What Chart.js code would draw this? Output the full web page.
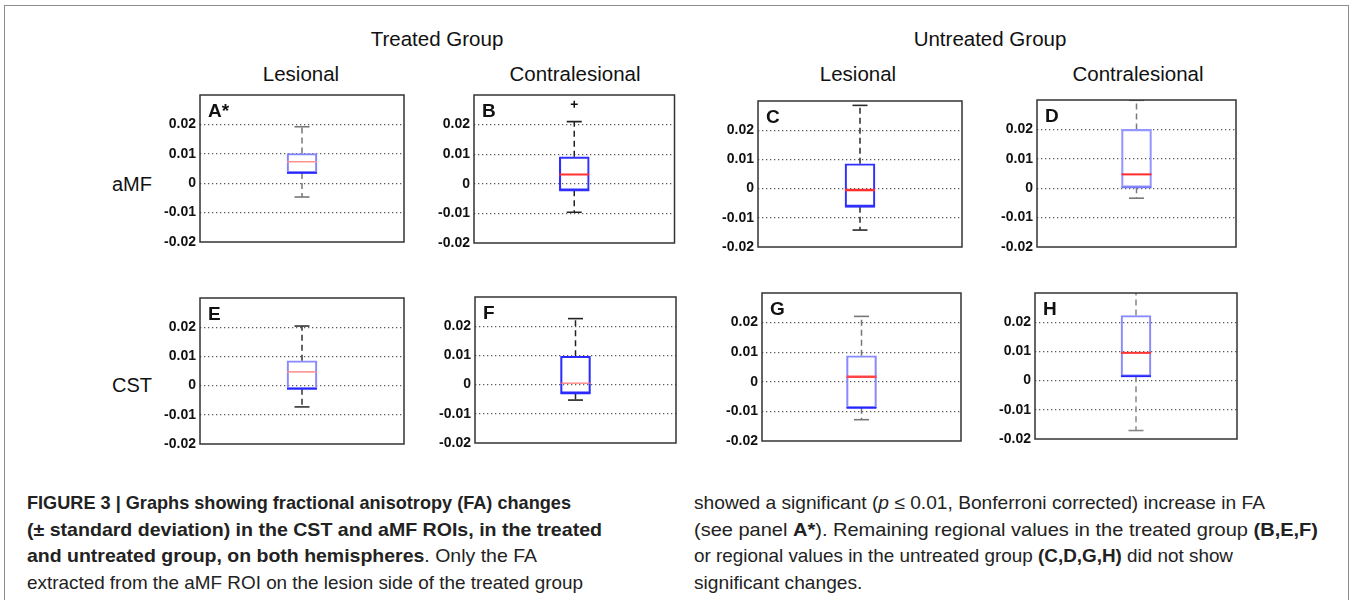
<!DOCTYPE html>
<html>
<head>
<meta charset="utf-8">
<script src="https://cdn.jsdelivr.net/npm/chart.js@4/dist/chart.umd.min.js"></script>
<style>
  html, body { margin:0; padding:0; background:#fff; width:1352px; height:600px; overflow:hidden; }
  body { position:relative; font-family:"Liberation Sans", Arial, sans-serif; color:#111; }
  .abs { position:absolute; white-space:nowrap; }
  .hdr { font-size:20.5px; line-height:24px; transform:translate(-50%,-50%); }
  .row { font-size:20px; line-height:24px; transform:translateY(-50%); }
  .letter { font-weight:bold; font-size:19px; line-height:19px; }
  .cap { font-family:"Liberation Sans Narrow","Liberation Sans",sans-serif; font-size:18.5px; line-height:22px; transform-origin:0 50%; color:#222; }
  .frame { position:absolute; left:4px; top:5px; width:1343px; height:640px; border:1.5px solid #8c8c8c; }
  .pw { position:absolute; }
</style>
</head>
<body>
<div class="frame"></div>
<div id="root"></div>
<script>
// ---------- DATA ----------
const panelLabels = ['A*','B','C','D','E','F','G','H'];
const groupTitles = ['Treated Group','Untreated Group'];
const sideTitles = ['Lesional','Contralesional','Lesional','Contralesional'];
const rowTitles = ['aMF','CST'];
const yTickValues = [-0.02, -0.01, 0, 0.01, 0.02];
const yTickLabels = ['-0.02', '-0.01', '0', '0.01', '0.02'];
const yMin = -0.02;
const yMax = 0.03;
const whiskerLow  = [-0.0047, -0.0096, -0.0142, -0.0034, -0.0073, -0.0053, -0.0128, -0.0171];
const q1          = [ 0.0035, -0.0022, -0.0062,  0.0003, -0.0011, -0.0030, -0.0088,  0.0015];
const median      = [ 0.0073,  0.0031, -0.0005,  0.0047,  0.0047,  0.0005,  0.0017,  0.0095];
const q3          = [ 0.0101,  0.0091,  0.0085,  0.0200,  0.0085,  0.0097,  0.0088,  0.0223];
const whiskerHigh = [ 0.0192,  0.0210,  0.0285,  0.0299,  0.0204,  0.0226,  0.0221,  0.0320];
const outliers    = [[], [0.0269], [], [], [], [], [], []];

// ---------- LAYOUT / STYLE ----------
// plot frames: left, top, right, bottom
const frames = [
  [200, 95, 404, 242], [474, 95, 675, 243], [758, 101, 962, 247], [1037, 100, 1236, 247],
  [200, 298, 404, 444], [475, 297, 676, 443], [762, 293, 961, 441], [1035, 293, 1237, 439]
];
const boxColor      = ['#8484ff','#2f2fff','#2f2fff','#9696ff','#8a8aff','#2a2aff','#8a8aff','#8a8aff'];
const boxBottomCol  = ['#2525ff','#2f2fff','#2f2fff','#7a7aff','#2525ff','#2a2aff','#2525ff','#2525ff'];
const medianColor   = ['#ff9090','#ff3030','#ff3030','#ff2a2a','#ff8a8a','#ff7070','#ff4545','#ff3535'];
const medianWidth   = [1.5, 2, 2.5, 2, 1.5, 1.2, 2.5, 2];
const whiskerColor  = ['#777','#222','#2a2a2a','#7a7a7a','#333','#222','#777','#888'];
const PADL = 70, PADT = 15, PADR = 5, PADB = 15;

const root = document.getElementById('root');
function addText(cls, txt, x, y, extra) {
  const d = document.createElement('div');
  d.className = 'abs ' + cls;
  d.textContent = txt;
  d.style.left = x + 'px';
  d.style.top = y + 'px';
  if (extra) Object.assign(d.style, extra);
  root.appendChild(d);
  return d;
}
addText('hdr', groupTitles[0], 437, 39);
addText('hdr', groupTitles[1], 990, 39);
[301, 575, 858, 1138].forEach((x, i) => addText('hdr', sideTitles[i], x, 74));
addText('row', rowTitles[0], 112, 184);
addText('row', rowTitles[1], 112, 385);

const boxPlugin = {
  id: 'boxExtras',
  afterDatasetsDraw(chart) {
    const i = chart.options.plugins.boxExtras.idx;
    const ctx = chart.ctx, xs = chart.scales.x, ys = chart.scales.y, a = chart.chartArea;
    const cx = xs.getPixelForValue(1);
    ctx.save();
    ctx.beginPath(); ctx.rect(a.left, a.top, a.right - a.left, a.bottom - a.top); ctx.clip();
    ctx.strokeStyle = boxBottomCol[i]; ctx.lineWidth = 1.8;
    ctx.beginPath(); ctx.moveTo(cx - 15, ys.getPixelForValue(q1[i])); ctx.lineTo(cx + 15, ys.getPixelForValue(q1[i])); ctx.stroke();
    ctx.strokeStyle = medianColor[i]; ctx.lineWidth = medianWidth[i];
    const my = ys.getPixelForValue(median[i]);
    ctx.beginPath(); ctx.moveTo(cx - 15, my); ctx.lineTo(cx + 15, my); ctx.stroke();
    ctx.strokeStyle = whiskerColor[i]; ctx.lineWidth = 1.6;
    [whiskerLow[i], whiskerHigh[i]].forEach(v => {
      if (v <= yMax && v >= yMin) {
        const py = ys.getPixelForValue(v);
        ctx.beginPath(); ctx.moveTo(cx - 7.5, py); ctx.lineTo(cx + 7.5, py); ctx.stroke();
      }
    });
    ctx.restore();
    ctx.save();
    ctx.strokeStyle = '#333'; ctx.lineWidth = 1.5;
    ctx.strokeRect(a.left, a.top, a.right - a.left, a.bottom - a.top);
    ctx.restore();
  }
};

frames.forEach((f, i) => {
  const [L, T, R, B] = f;
  const W = (R - L) + PADL + PADR, H = (B - T) + PADT + PADB;
  const wrap = document.createElement('div');
  wrap.className = 'pw';
  wrap.style.left = (L - PADL) + 'px';
  wrap.style.top = (T - PADT) + 'px';
  wrap.style.width = W + 'px';
  wrap.style.height = H + 'px';
  const cv = document.createElement('canvas');
  cv.width = W; cv.height = H;
  cv.style.width = W + 'px'; cv.style.height = H + 'px';
  wrap.appendChild(cv);
  root.appendChild(wrap);

  const dashed = [6, 4];
  new Chart(cv.getContext('2d'), {
    data: {
      datasets: [
        { type: 'bar', data: [{ x: 1, y: [q1[i], q3[i]] }], barThickness: 30, grouped: false,
          backgroundColor: 'rgba(0,0,0,0)', borderColor: boxColor[i], borderWidth: 1.5, borderSkipped: false, order: 2 },
        { type: 'line', data: [{ x: 1, y: q3[i] }, { x: 1, y: whiskerHigh[i] }], borderColor: whiskerColor[i],
          borderWidth: 1.5, borderDash: dashed, pointRadius: 0, order: 3 },
        { type: 'line', data: [{ x: 1, y: q1[i] }, { x: 1, y: whiskerLow[i] }], borderColor: whiskerColor[i],
          borderWidth: 1.5, borderDash: dashed, pointRadius: 0, order: 3 },
        { type: 'scatter', data: outliers[i].map(v => ({ x: 1, y: v })), pointStyle: 'cross', pointRadius: 3.5,
          borderColor: '#111', borderWidth: 1.5, order: 1 }
      ]
    },
    options: {
      responsive: false, animation: false, events: [],
      layout: { padding: { left: 0, top: PADT, right: PADR, bottom: PADB } },
      plugins: { legend: { display: false }, tooltip: { enabled: false }, boxExtras: { idx: i } },
      scales: {
        x: { type: 'linear', min: 0, max: 2, display: false },
        y: {
          type: 'linear', min: yMin, max: yMax,
          afterBuildTicks: s => { s.ticks = [-0.02, -0.01, 0, 0.01, 0.02, 0.03].map(v => ({ value: v })); },
          afterFit: s => { s.width = PADL; },
          border: { display: false, dash: [1.3, 2.7] },
          grid: { drawTicks: false, lineWidth: 1.2,
            color: c => {
              const v = c.tick ? c.tick.value : 0;
              return (Math.abs(v - yMin) < 1e-9 || Math.abs(v - yMax) < 1e-9) ? 'rgba(0,0,0,0)' : '#5a5a5a';
            } },
          ticks: {
            padding: 4, color: '#111',
            font: { family: '"Liberation Sans", Arial, sans-serif', size: 14, weight: 'bold' },
            callback: v => { const k = yTickValues.findIndex(t => Math.abs(t - v) < 1e-9); return k >= 0 ? yTickLabels[k] : ''; }
          }
        }
      }
    },
    plugins: [boxPlugin]
  });
  addText('letter', panelLabels[i], L + 8, T + 5.5);
});

// ---------- CAPTION ----------
const capLeft = [
  ['b', 'FIGURE 3 | Graphs showing fractional anisotropy (FA) changes'],
  ['b', '(\u00b1 standard deviation) in the CST and aMF ROIs, in the treated'],
  ['m', '<b>and untreated group, on both hemispheres</b>. Only the FA'],
  ['n', 'extracted from the aMF ROI on the lesion side of the treated group']
];
const capRight = [
  ['m', 'showed a significant (<i>p</i> \u2264 0.01, Bonferroni corrected) increase in FA'],
  ['m', '(see panel <b>A*</b>). Remaining regional values in the treated group <b>(B,E,F)</b>'],
  ['m', 'or regional values in the untreated group <b>(C,D,G,H)</b> did not show'],
  ['n', 'significant changes.']
];
// target rendered widths of each caption line (layout); null = same scale as the column's first line
const capLeftW  = [544, 575, 510, 556];
const capRightW = [571, 624, 539, null];
const lineY = [503, 529.5, 556, 582.5];
function capColumn(items, widths, x) {
  let firstScale = 1;
  items.forEach((item, k) => {
    const d = document.createElement('div');
    d.className = 'abs cap';
    if (item[0] === 'b') d.innerHTML = '<b>' + item[1] + '</b>';
    else d.innerHTML = item[1];
    d.style.left = x + 'px';
    d.style.top = (lineY[k] - 11) + 'px';
    root.appendChild(d);
    const w0 = d.getBoundingClientRect().width;
    const s = widths[k] == null ? firstScale : widths[k] / w0;
    if (k === 0) firstScale = s;
    d.style.transform = 'scaleX(' + s + ')';
  });
}
capColumn(capLeft, capLeftW, 27);
capColumn(capRight, capRightW, 694);
</script>
</body>
</html>
